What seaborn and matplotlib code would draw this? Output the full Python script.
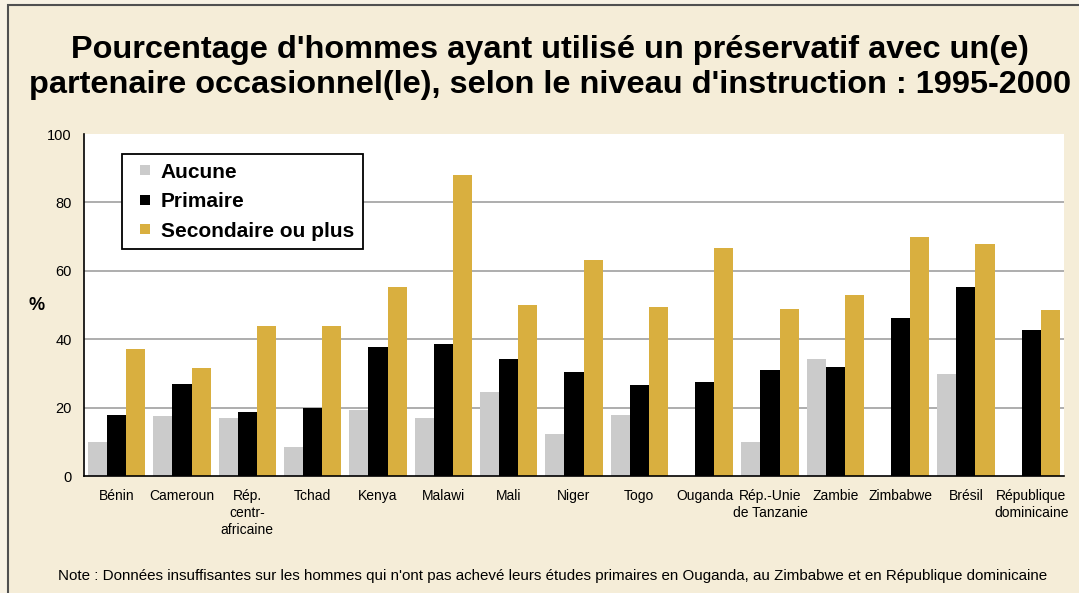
import numpy as np
import pandas as pd
import seaborn as sns
import matplotlib.pyplot as plt
from matplotlib.lines import Line2D
from matplotlib.patches import Rectangle

# --- data ---
pays = ["Bénin", "Cameroun", "Rép.\ncentr-\nafricaine", "Tchad", "Kenya", "Malawi",
        "Mali", "Niger", "Togo", "Ouganda", "Rép.-Unie\nde Tanzanie", "Zambie",
        "Zimbabwe", "Brésil", "République\ndominicaine"]
aucune = [10.0, 17.6, 17.0, 8.5, 19.3, 17.0, 24.6, 12.3, 17.9, np.nan, 10.0, 34.2, np.nan, 29.8, np.nan]
primaire = [17.9, 26.9, 18.7, 20.0, 37.7, 38.6, 34.2, 30.4, 26.6, 27.5, 31.0, 31.9, 46.2, 55.2, 42.7]
secondaire = [37.1, 31.6, 43.8, 43.8, 55.2, 88.1, 49.9, 63.1, 49.4, 66.6, 48.8, 52.9, 69.8, 67.7, 48.5]
niveaux = ["Aucune", "Primaire", "Secondaire ou plus"]
couleurs = ["#CBCBCB", "#000000", "#D9AF3F"]

df = pd.DataFrame({"pays": pays, "Aucune": aucune, "Primaire": primaire,
                   "Secondaire ou plus": secondaire})
long_df = df.melt(id_vars="pays", var_name="niveau", value_name="pct").dropna()

bg = "#F5EDD8"
outer = "#F8F2E4"
sans = ["Liberation Sans", "DejaVu Sans"]

sns.set_style("white")
plt.rcParams["font.family"] = sans
plt.rcParams["text.color"] = "black"
plt.rcParams["xtick.color"] = "black"
plt.rcParams["ytick.color"] = "black"
plt.rcParams["axes.labelcolor"] = "black"

fig = plt.figure(figsize=(10.79, 5.93), dpi=100, facecolor=outer)
# framed panel, slightly inset on the top/left like the reference
fig.patches.append(Rectangle((8 / 1079, -0.05), 1.05, 1.05 - 5 / 593, transform=fig.transFigure,
                             facecolor=bg, edgecolor="#505050", lw=1.5, zorder=-10))

ax = fig.add_axes([0.0779, 0.1973, 0.9081, 0.5767])
ax.set_facecolor("white")

sns.barplot(data=long_df, x="pays", y="pct", hue="niveau", order=pays,
            hue_order=niveaux, palette=couleurs, width=0.88, saturation=1,
            errorbar=None, ax=ax, linewidth=0)

ax.set_ylim(0, 100)
ax.set_xlim(-0.5, len(pays) - 0.5)
ax.set_yticks([0, 20, 40, 60, 80, 100])
ax.set_yticklabels(["0", "20", "40", "60", "80", "100"], fontsize=10.5)
ax.set_xticks(range(len(pays)))
ax.set_xticklabels(pays, fontsize=10, linespacing=1.3, va="top")
ax.set_xticks(np.arange(-0.5, len(pays), 1), minor=True)
ax.tick_params(axis="x", which="major", length=0, pad=9)
ax.tick_params(axis="x", which="minor", length=4, width=1, color="black", direction="out")
ax.tick_params(axis="y", length=0, pad=9)

for y in [20, 40, 60, 80]:
    ax.axhline(y, color="#A0A0A0", lw=1.2, zorder=0)
ax.set_axisbelow(True)

for s in ["top", "right"]:
    ax.spines[s].set_visible(False)
for s in ["left", "bottom"]:
    ax.spines[s].set_color("black")
    ax.spines[s].set_linewidth(1.2)

ax.set_xlabel("")
ax.set_ylabel("%", rotation=0, fontsize=13, fontweight="bold", va="center", ha="center")
ax.yaxis.set_label_coords(-0.048, 0.5)

if ax.get_legend() is not None:
    ax.get_legend().remove()
handles = [Line2D([], [], ls="none", marker="s", markersize=7.5, markerfacecolor=c,
                  markeredgewidth=0) for c in couleurs]
leg = ax.legend(handles, niveaux, loc="upper left", bbox_to_anchor=(0.0385, 0.9415),
                borderaxespad=0, frameon=True, fancybox=False, handlelength=1.4,
                handletextpad=0.05, labelspacing=0.5, borderpad=0.42,
                prop={"weight": "bold", "size": 15, "family": sans})
leg.get_frame().set_edgecolor("black")
leg.get_frame().set_linewidth(1.3)
leg.get_frame().set_facecolor("white")
leg.get_frame().set_alpha(1)

fig.text(0.51, 0.886, "Pourcentage d'hommes ayant utilisé un préservatif avec un(e)\n"
         "partenaire occasionnel(le), selon le niveau d'instruction : 1995-2000",
         ha="center", va="center", fontsize=23.4, fontweight="bold", linespacing=1.24)

fig.text(0.512, 0.029, "Note : Données insuffisantes sur les hommes qui n'ont pas achevé leurs "
         "études primaires en Ouganda, au Zimbabwe et en République dominicaine",
         ha="center", va="center", fontsize=10.9)

fig.savefig("out.png", dpi=100, facecolor=outer)
